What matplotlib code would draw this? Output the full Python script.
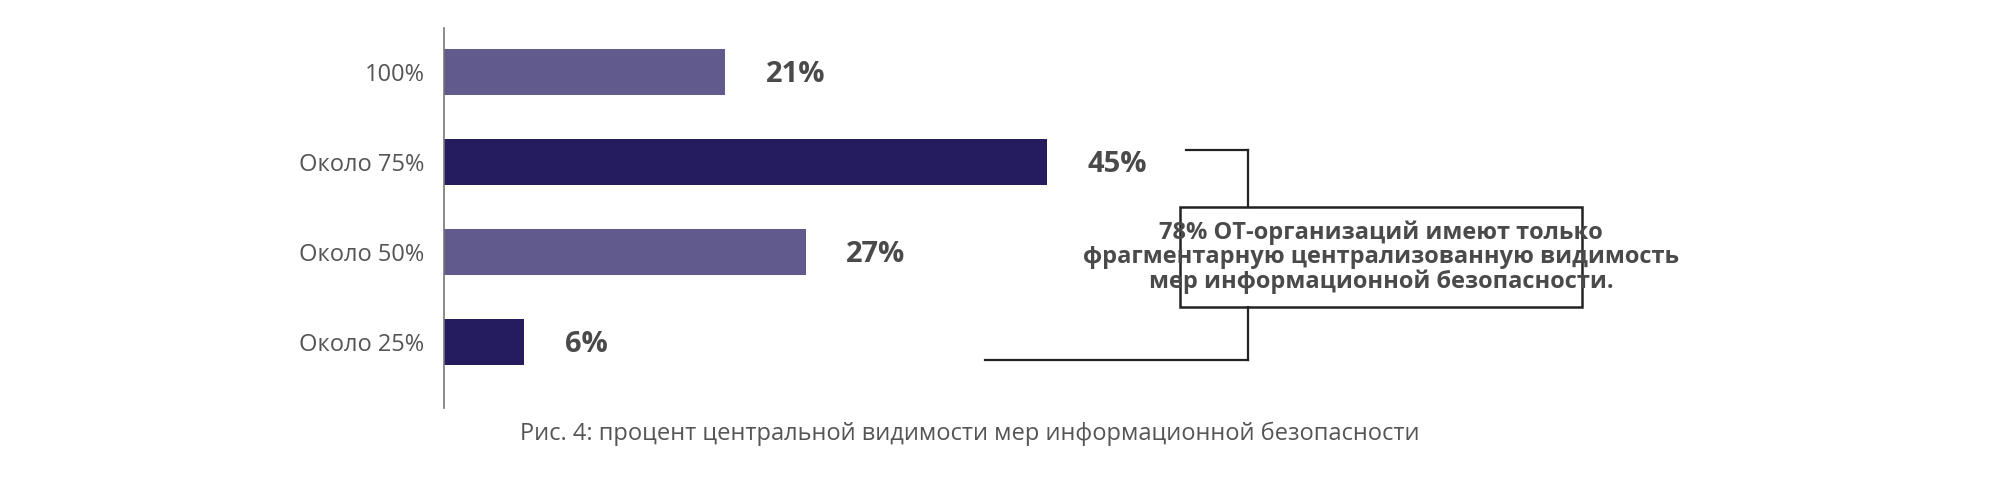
import matplotlib
matplotlib.use("Agg")
import matplotlib.pyplot as plt
from matplotlib.patches import Rectangle

categories = ["100%", "Около 75%", "Около 50%", "Около 25%"]
values = [21, 45, 27, 6]
colors = ["#615a8c", "#241c5c", "#615a8c", "#241c5c"]
caption = "Рис. 4: процент центральной видимости мер информационной безопасности"
note = ("78% ОТ-организаций имеют только\n"
        "фрагментарную централизованную видимость\n"
        "мер информационной безопасности.")

plt.rcParams["font.family"] = ["Liberation Sans Narrow", "Open Sans", "DejaVu Sans"]

W, H = 2000, 482
fig = plt.figure(figsize=(W / 100, H / 100), dpi=100)


def fx(px):
    return px / W


def fy(py):
    return 1 - py / H


# axes: left edge at x=444, 13.4 px per percent; top 28, bottom 408
ax = fig.add_axes([fx(444), fy(408), fx(1340), (408 - 28) / H])
pos = list(range(len(categories)))
ax.barh(pos, values, height=0.52, color=colors)
ax.set_xlim(0, 100)
ax.set_ylim(3.733, -0.489)
ax.set_yticks(pos)
ax.set_yticklabels(categories, fontsize=17, color="#555555")
ax.tick_params(axis="y", length=0, pad=14)
ax.set_xticks([])
for s in ["top", "right", "bottom"]:
    ax.spines[s].set_visible(False)
ax.spines["left"].set_color("#777777")
ax.spines["left"].set_linewidth(1.2)
for p, v in zip(pos, values):
    ax.text(v + 3, p + 0.03, f"{v}%", va="center", ha="left",
            fontsize=21, fontweight="bold", color="#4a4a4a")

# caption
fig.text(fx(970), fy(434), caption, ha="center", va="center",
         fontsize=17, color="#555555")

# connector lines
lc = dict(color="#222222", lw=1.6, transform=fig.transFigure)
fig.add_artist(plt.Line2D([fx(1186), fx(1248)], [fy(150), fy(150)], **lc))
fig.add_artist(plt.Line2D([fx(1248), fx(1248)], [fy(150), fy(207)], **lc))
fig.add_artist(plt.Line2D([fx(1248), fx(1248)], [fy(307), fy(360)], **lc))
fig.add_artist(plt.Line2D([fx(985), fx(1248)], [fy(360), fy(360)], **lc))

# note box
fig.add_artist(Rectangle((fx(1180), fy(307)), fx(402), (307 - 207) / H,
                         transform=fig.transFigure, fill=False,
                         edgecolor="#222222", lw=1.8))
fig.text(fx(1381), fy(257), note, ha="center", va="center", fontsize=17,
         fontweight="bold", color="#4a4a4a", linespacing=1.0)

fig.savefig("out.png", dpi=100, facecolor="white")
